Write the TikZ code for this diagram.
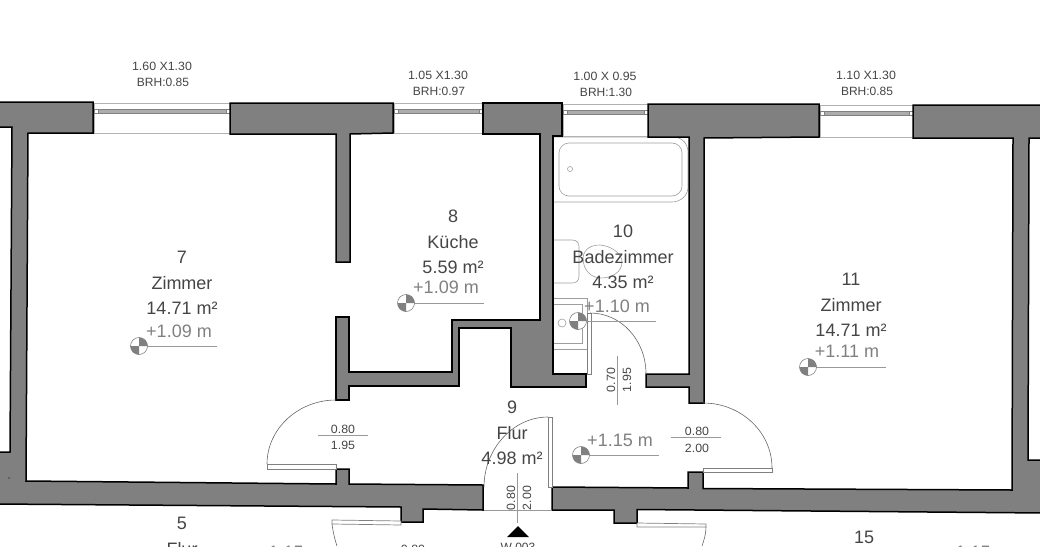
\documentclass[tikz,border=0pt]{standalone}
\usepackage{fontspec}
\setmainfont{Liberation Sans}
\newfontfamily\dimfont[FakeStretch=1.03]{Liberation Sans}
\definecolor{wallgray}{gray}{0.5}
\definecolor{txtgray}{gray}{0.27}
\definecolor{levelgray}{gray}{0.5}
\definecolor{fixgray}{gray}{0.62}
\tikzset{
  wall/.style={fill=wallgray,draw=black,line width=1.5pt,line join=miter},
  winline/.style={draw=gray!60,line width=0.7pt,fill=white},
  glass/.style={fill=gray!65,draw=gray,line width=0.7pt},
  leaf/.style={draw=gray,line width=0.7pt,fill=white},
  swing/.style={draw=black!60,line width=0.6pt},
  fixture/.style={draw=fixgray,line width=0.6pt},
  dimline/.style={draw=gray!80,line width=0.7pt},
  roomtxt/.style={anchor=base,inner sep=0pt,text=txtgray,font=\fontsize{18}{20}\selectfont},
  leveltxt/.style={anchor=base,inner sep=0pt,text=levelgray,font=\fontsize{18}{20}\selectfont},
  dimtxt/.style={anchor=base,inner sep=0pt,text=txtgray,font=\dimfont\fontsize{12}{14}\selectfont},
}
\begin{document}
\begin{tikzpicture}[x=1pt,y=-1pt]
\useasboundingbox (0,0) rectangle (1040,546);
\clip (0,0) rectangle (1040,546);

% bath fixtures
\draw[fixture] (553,137)--(673,137) .. controls (683,137) and (688,145) .. (688,152)--(688,187) .. controls (688,196) and (680,202) .. (672,202)--(553,202);
\draw[fixture,rounded corners=10pt] (559,143) rectangle (682,196);
\draw[fixture] (570,169) circle (2.5);
\draw[fixture] (553,240)--(572,240) .. controls (577,240) and (579,243) .. (579,247)--(579,276) .. controls (579,281) and (576,283) .. (572,283)--(553,283);
\draw[fixture] (583,258) .. controls (584,248) and (592,245) .. (600,245) .. controls (612,246) and (622,254) .. (622,262) .. controls (622,272) and (612,278) .. (601,278) .. controls (591,278) and (583,270) .. (583,258)--cycle;
\draw[fixture] (553,298) rectangle (587,349);
\draw[fixture] (553,304) rectangle (582,343);
\draw[fixture] (562,323) circle (4);

% windows
\foreach \xa/\xb/\ya/\yb in {94/230/103/133,394/483/103/133,563/648/104/136,820/913/105/137}{
  \draw[winline] (\xa,\ya) rectangle (\xb,\yb);
  \draw[glass] (\xa+3,\ya+6.5) rectangle (\xb-3,\ya+10.5);
  \fill[white] (\xa,\ya+6.5) rectangle (\xa+4,\ya+10.5);
  \fill[white] (\xb-4,\ya+6.5) rectangle (\xb,\ya+10.5);
  \draw[gray,line width=0.4pt] (\xa,\ya+6.5) rectangle (\xa+4,\ya+10.5);
  \draw[gray,line width=0.4pt] (\xb-4,\ya+6.5) rectangle (\xb,\ya+10.5);
}

% walls
\draw[wall] (-5,102)--(93,102)--(93,133)--(28,133)--(26,481)--(336,484)--(336,469)--(349,469)--(349,484)--(483,485)--(483,510)--(423,509)--(423,522)--(401,522)--(401,507)--(-5,504)--(-5,452)--(10,452)--(12,127)--(-5,127)--cycle;
\draw[wall] (230,103)--(393,103)--(393,133)--(350,134)--(350,262)--(336,262)--(336,134)--(230,134)--cycle;
\draw[wall] (336,317)--(349,317)--(349,372)--(452,372)--(452,320)--(540,320)--(540,134)--(483,134)--(483,103)--(562,103)--(562,136)--(553,136)--(553,374)--(586,374)--(586,387)--(511,387)--(511,328)--(459,328)--(459,386)--(349,386)--(349,400)--(336,400)--cycle;
\draw[wall] (648,104)--(819,104)--(819,137)--(704,138)--(704,403)--(689,403)--(689,387)--(646,387)--(646,374)--(689,374)--(689,137)--(648,137)--cycle;
\draw[wall] (913,105)--(1045,105)--(1045,138)--(1029,138)--(1028,460)--(1045,460)--(1045,513)--(637,509.5)--(637,523)--(614,523)--(614,510)--(552,510)--(552,487)--(688,488)--(688,472)--(703,472)--(703,488.5)--(1012,490)--(1013,138)--(913,138)--cycle;
\fill (9,478) circle (0.7);
\draw[dimline] (484,510)--(552,510);

% doors
\draw[leaf] (267,464) rectangle (336,469);
\draw[swing] (336,400) .. controls (298,400) and (267,429) .. (267,464);
\draw[leaf] (548,417) rectangle (552,487);
\draw[swing] (548,417) .. controls (513,417) and (484,449) .. (484,487);
\draw[leaf] (703,468) rectangle (772,472);
\draw[swing] (703,403) .. controls (741,403) and (772,432) .. (772,468);
\draw[leaf] (587,313) rectangle (591,374);
\draw[swing] (590,313) .. controls (621,313) and (646,340) .. (646,374);
\draw[leaf] (332,520)--(401,521)--(401,525)--(332,524)--cycle;
\draw[swing] (332,524) .. controls (333,532) and (335,540) .. (337,546);
\draw[leaf] (637,523)--(706,524)--(706,527)--(637,527)--cycle;
\draw[swing] (706,527) .. controls (706,534) and (704,540) .. (702,546);

% rooms
\foreach \nr/\name/\area/\x/\y in {7/Zimmer/14.71/182/263,8/Küche/5.59/453/222,10/Badezimmer/4.35/623/237,11/Zimmer/14.71/851/285,9/Flur/4.98/512/413}{
  \node[roomtxt] (nr\nr) at (\x,\y) {\nr};
  \node[roomtxt] (name\nr) at (\x,\y+26.5) {\name};
  \node[roomtxt] (area\nr) at (\x,\y+51) {\area\ m²};
}
\node[roomtxt] (nr5) at (182,529) {5};
\node[roomtxt] (name5) at (182,555) {Flur};
\node[roomtxt] (nr15) at (864,543) {15};

% levels
\foreach \lv/\x/\y/\tx/\ty in {1.09/139/346/179/337,1.09/406/303/446/293,1.10/578/321/617/312,1.11/808/367/847/357,1.15/581/455/620/446}{
  \draw[dimline] (\x+8,\y)--(\x+78,\y);
  \fill[white] (\x,\y) circle (8.5);
  \fill[wallgray] (\x,\y)--(\x-8.5,\y) arc (180:90:8.5)--cycle;
  \fill[wallgray] (\x,\y)--(\x+8.5,\y) arc (0:-90:8.5)--cycle;
  \draw[gray,line width=0.6pt] (\x,\y) circle (8.5);
  \node[leveltxt] at (\tx,\ty) {+\lv\ m};
}
\node[leveltxt,anchor=base west] (lvA) at (258,558) {+1.15 m};
\node[leveltxt,anchor=base west] (lvB) at (945,558) {+1.15 m};

% window labels
\foreach \id/\top/\brh/\x/\y in {a/{1.60 X1.30}/0.85/162/70,b/{1.05 X1.30}/0.97/438/79,c/{1.00 X 0.95}/1.30/605/80,d/{1.10 X1.30}/0.85/866/79}{
  \node[dimtxt] (win\id) at (\x,\y) {\top};
  \node[dimtxt,font=\fontsize{12}{14}\selectfont] (brh\id) at (\x+1,\y+16) {BRH:\brh};
}

% door labels
\draw[dimline] (318,435)--(368,435);
\node[dimtxt] (dwa) at (343,433) {0.80};
\node[dimtxt] (dha) at (343,449) {1.95};
\draw[dimline] (671,437)--(721,437);
\node[dimtxt] (dwb) at (697,435) {0.80};
\node[dimtxt] (dhb) at (697,452) {2.00};
\draw[dimline] (617,356)--(617,405);
\node[dimtxt,rotate=90] (dwc) at (615,380) {0.70};
\node[dimtxt,rotate=90] (dhc) at (631,380) {1.95};
\draw[dimline] (517,473)--(517,523);
\node[dimtxt,rotate=90] (dwd) at (515,498) {0.80};
\node[dimtxt,rotate=90] (dhd) at (531,498) {2.00};
\fill[black] (518,526)--(529,537)--(507,537)--cycle;
\node[dimtxt,font=\fontsize{12}{14}\selectfont] (wnr) at (518,551) {W 003};
\node[dimtxt] (dwe) at (413,553) {0.80};
\node[dimtxt] (dfl) at (460,556) {F};
\node[dimtxt,rotate=90] (dhe) at (579,552) {3};
\end{tikzpicture}
\end{document}
